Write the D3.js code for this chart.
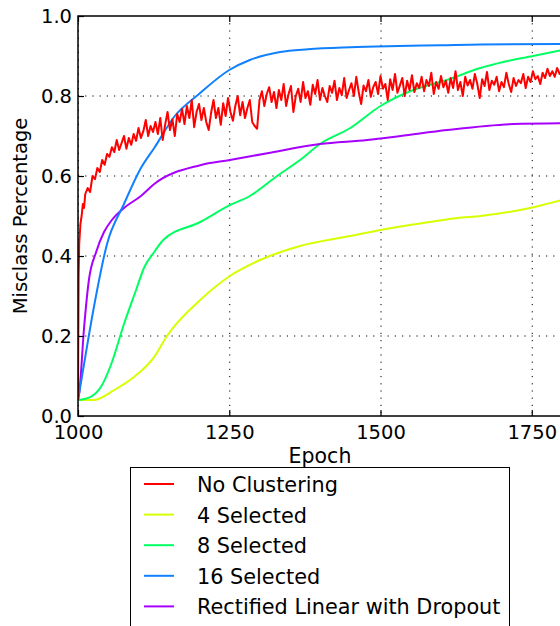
<!DOCTYPE html>
<html lang="en">
<head>
    <meta charset="utf-8">
    <title>Misclass Percentage by Epoch</title>
    <script src="https://d3js.org/d3.v7.min.js"></script>
    <style type="text/css">
        body { margin: 0; background: white; }
        text { font-family: "DejaVu Sans", sans-serif; fill: black; }
        .axis text { font-size: 19.5px; }
        .axis line { stroke: black; stroke-width: 1.2px; }
        .axis path { display: none; }
        .grid line { stroke: black; stroke-width: 1px; stroke-dasharray: 1.2, 6; }
        .line { fill: none; stroke-width: 2px; stroke-linejoin: round; }
    </style>
</head>
<body>
    <script type="text/javascript">

        const w = 560; // Width
        const h = 626; // Height
        const margin = {left: 78, top: 16, right: 562, bottom: 416};

        // Tick labels
        const xTicks = [1000, 1250, 1500, 1750];
        const yTicks = [0.0, 0.2, 0.4, 0.6, 0.8, 1.0];

        // Series names and colors
        const seriesNames = ["No Clustering", "4 Selected", "8 Selected", "16 Selected", "Rectified Linear with Dropout"];
        const seriesColors = ["#ff0000", "#d8ff00", "#00ff62", "#1080ff", "#a800ff"];

        // No Clustering: steep start, then one value every 4 epochs from 1012
        const redStart = [[1000, 0.04], [1001, 0.35], [1002, 0.43], [1004, 0.48], [1006, 0.50], [1008, 0.53], [1010, 0.52]];
        const redValues = [
            0.555, 0.570, 0.560, 0.600, 0.592, 0.620, 0.610, 0.640, 0.628, 0.655,
            0.648, 0.672, 0.660, 0.690, 0.665, 0.682, 0.700, 0.668, 0.695, 0.678,
            0.705, 0.688, 0.720, 0.695, 0.712, 0.740, 0.700, 0.725, 0.710, 0.735,
            0.705, 0.745, 0.690, 0.728, 0.760, 0.715, 0.742, 0.700, 0.755, 0.735,
            0.768, 0.730, 0.775, 0.745, 0.790, 0.722, 0.760, 0.780, 0.740, 0.770,
            0.735, 0.715, 0.758, 0.790, 0.745, 0.770, 0.728, 0.782, 0.750, 0.795,
            0.760, 0.738, 0.775, 0.800, 0.752, 0.785, 0.745, 0.770, 0.790, 0.735,
            0.725, 0.718, 0.790, 0.812, 0.775, 0.805, 0.822, 0.785, 0.810, 0.770,
            0.815, 0.790, 0.830, 0.775, 0.805, 0.825, 0.760, 0.800, 0.818, 0.785,
            0.835, 0.795, 0.812, 0.778, 0.828, 0.805, 0.840, 0.790, 0.820, 0.800,
            0.785, 0.825, 0.808, 0.838, 0.790, 0.820, 0.802, 0.845, 0.795, 0.815,
            0.832, 0.800, 0.848, 0.810, 0.780, 0.826, 0.812, 0.840, 0.798, 0.822,
            0.835, 0.805, 0.850, 0.818, 0.830, 0.790, 0.842, 0.815, 0.855, 0.808,
            0.826, 0.845, 0.800, 0.838, 0.815, 0.852, 0.810, 0.832, 0.820, 0.848,
            0.812, 0.840, 0.825, 0.858, 0.805, 0.835, 0.818, 0.850, 0.822, 0.838,
            0.808, 0.845, 0.820, 0.862, 0.815, 0.835, 0.800, 0.848, 0.826, 0.840,
            0.818, 0.855, 0.830, 0.795, 0.842, 0.825, 0.860, 0.815, 0.838, 0.828,
            0.848, 0.812, 0.835, 0.822, 0.858, 0.830, 0.810, 0.845, 0.825, 0.840,
            0.832, 0.855, 0.820, 0.848, 0.835, 0.862, 0.842, 0.850, 0.830, 0.858,
            0.845, 0.868, 0.850, 0.862, 0.848, 0.870, 0.855, 0.860
        ];

        // 4 Selected
        const sel4 = [[1000, 0.04], [1026, 0.04], [1060, 0.065], [1093, 0.098], [1126, 0.148], [1147, 0.20],
            [1202, 0.29], [1251, 0.35], [1301, 0.39], [1367, 0.425], [1450, 0.45], [1500, 0.465],
            [1582, 0.485], [1627, 0.495], [1665, 0.50], [1747, 0.52], [1800, 0.54]];

        // 8 Selected
        const sel8 = [[1000, 0.04], [1021, 0.048], [1038, 0.073], [1055, 0.13], [1076, 0.23], [1096, 0.315],
            [1109, 0.37], [1126, 0.41], [1141, 0.44], [1202, 0.485], [1251, 0.527], [1284, 0.55],
            [1329, 0.60], [1367, 0.64], [1400, 0.68], [1450, 0.72], [1500, 0.775], [1554, 0.815],
            [1610, 0.84], [1665, 0.87], [1703, 0.885], [1752, 0.90], [1800, 0.915]];

        // 16 Selected
        const sel16 = [[1000, 0.04], [1010, 0.13], [1026, 0.27], [1048, 0.43], [1076, 0.53], [1104, 0.62],
            [1126, 0.67], [1160, 0.75], [1200, 0.805], [1250, 0.865], [1284, 0.89], [1334, 0.91],
            [1380, 0.917], [1450, 0.922], [1530, 0.925], [1600, 0.927], [1665, 0.929], [1800, 0.93]];

        // Rectified Linear with Dropout
        const relu = [[1000, 0.04], [1002, 0.057], [1010, 0.22], [1018, 0.34], [1030, 0.41], [1043, 0.46],
            [1056, 0.49], [1076, 0.52], [1104, 0.55], [1126, 0.58], [1202, 0.627], [1251, 0.64],
            [1313, 0.657], [1400, 0.68], [1478, 0.69], [1533, 0.70], [1610, 0.715], [1720, 0.73], [1800, 0.732]];

        const redSeries = redStart.concat(redValues.map((v, i) => [1012 + 4 * i, v]));

        // Scales
        const xScale = d3.scaleLinear()
            .domain([1000, 1800])
            .range([margin.left, margin.right]);

        const yScale = d3.scaleLinear()
            .domain([0, 1])
            .range([margin.bottom, margin.top]);

        // SVG element
        const svg = d3.select("body")
            .append("svg")
            .attr("width", w)
            .attr("height", h);

        svg.append("clipPath")
            .attr("id", "plotClip")
            .append("rect")
            .attr("x", margin.left)
            .attr("y", margin.top)
            .attr("width", margin.right - margin.left)
            .attr("height", margin.bottom - margin.top);

        // Grid
        svg.append("g")
            .attr("class", "grid")
            .selectAll("line.gx")
            .data(xTicks)
            .join("line")
            .attr("x1", d => xScale(d) + 0.5)
            .attr("x2", d => xScale(d) + 0.5)
            .attr("y1", margin.top)
            .attr("y2", margin.bottom);

        svg.select(".grid")
            .selectAll("line.gy")
            .data(yTicks.slice(1, -1))
            .join("line")
            .attr("class", "gy")
            .attr("x1", margin.left)
            .attr("x2", margin.right)
            .attr("y1", d => yScale(d))
            .attr("y2", d => yScale(d));

        // Lines
        const line = d3.line()
            .x(d => xScale(d[0]))
            .y(d => yScale(d[1]));

        const smoothLine = d3.line()
            .curve(d3.curveMonotoneX)
            .x(d => xScale(d[0]))
            .y(d => yScale(d[1]));

        const plot = svg.append("g").attr("clip-path", "url(#plotClip)");

        const allSeries = [redSeries, sel4, sel8, sel16, relu];
        // draw order: smooth ones first, red noisy line on top like the picture
        [1, 2, 4, 3, 0].forEach(i => {
            plot.append("path")
                .attr("class", "line")
                .attr("d", i === 0 ? line(allSeries[i]) : smoothLine(allSeries[i]))
                .attr("stroke", seriesColors[i]);
        });

        // Axes (ticks inside the frame)
        const bottomAxis = d3.axisBottom(xScale)
            .tickValues(xTicks)
            .tickFormat(d3.format("d"))
            .tickSizeInner(-6)
            .tickPadding(9);

        svg.append("g")
            .attr("class", "axis")
            .attr("transform", "translate(0," + margin.bottom + ")")
            .call(bottomAxis);

        const topAxis = d3.axisTop(xScale)
            .tickValues(xTicks)
            .tickFormat("")
            .tickSizeInner(-6);

        svg.append("g")
            .attr("class", "axis")
            .attr("transform", "translate(0," + margin.top + ")")
            .call(topAxis);

        const leftAxis = d3.axisLeft(yScale)
            .tickValues(yTicks)
            .tickFormat(d3.format(".1f"))
            .tickSizeInner(-6)
            .tickPadding(6);

        svg.append("g")
            .attr("class", "axis")
            .attr("transform", "translate(" + margin.left + ",0)")
            .call(leftAxis);

        // Frame
        svg.append("rect")
            .attr("x", margin.left)
            .attr("y", margin.top)
            .attr("width", margin.right - margin.left)
            .attr("height", margin.bottom - margin.top)
            .attr("fill", "none")
            .attr("stroke", "black")
            .attr("stroke-width", 1.5);

        // Axis labels
        svg.append("text")
            .attr("x", (margin.left + margin.right) / 2)
            .attr("y", 463)
            .attr("text-anchor", "middle")
            .attr("font-size", "20.5px")
            .text("Epoch");

        svg.append("text")
            .attr("transform", "translate(27," + (margin.top + margin.bottom) / 2 + ") rotate(-90)")
            .attr("text-anchor", "middle")
            .attr("font-size", "19.5px")
            .text("Misclass Percentage");

        // Legend
        const legend = svg.append("g");

        legend.append("rect")
            .attr("x", 130.5)
            .attr("y", 467.5)
            .attr("width", 379)
            .attr("height", 170)
            .attr("fill", "white")
            .attr("stroke", "black")
            .attr("stroke-width", 1);

        const rows = legend.selectAll("g.row")
            .data(seriesNames)
            .join("g")
            .attr("transform", (d, i) => "translate(0," + (492 + i * 30.6) + ")");

        rows.append("line")
            .attr("x1", 144)
            .attr("x2", 174)
            .attr("y1", -8)
            .attr("y2", -8)
            .attr("stroke", (d, i) => seriesColors[i])
            .attr("stroke-width", 2);

        rows.append("text")
            .attr("x", 197)
            .attr("font-size", "20.8px")
            .text(d => d);

    </script>
</body>
</html>
